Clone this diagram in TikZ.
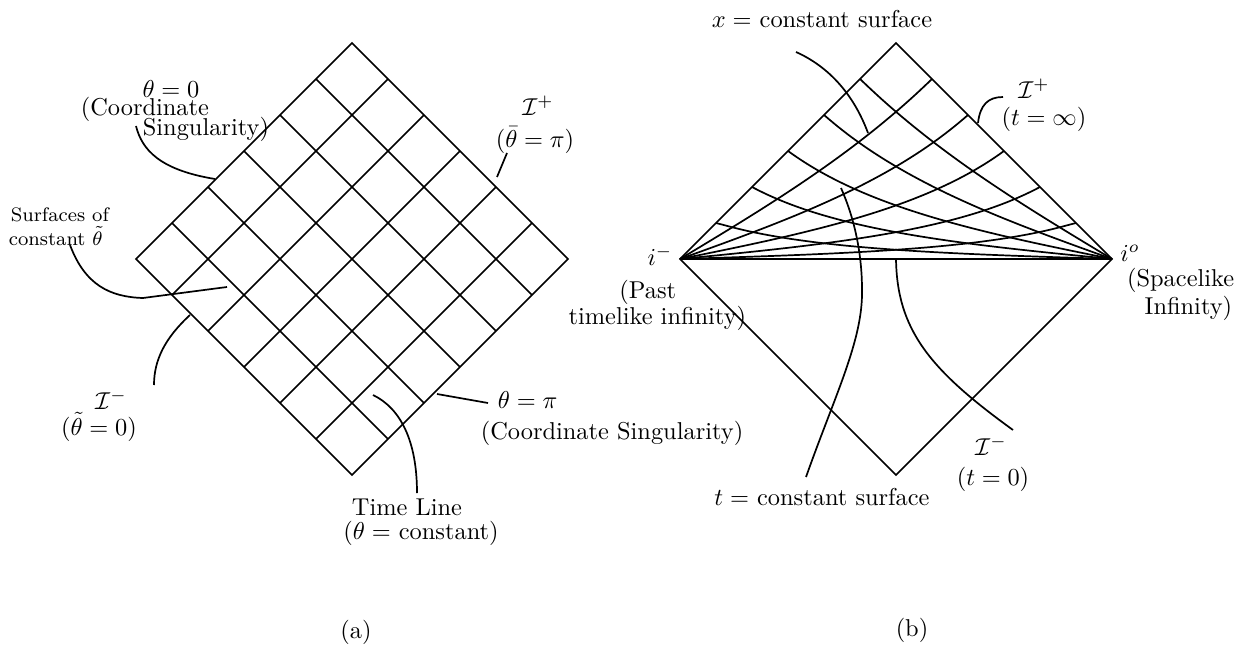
\documentclass[tikz,border=0pt]{standalone}

\tikzset{
        declare function={
                hh(\a)=cos(90*\a)/(1-\a);
                ff(\a,\p)=(1-\a)*(1-(1-\p)^(hh(\a)));
        },
}

\begin{document}
\begin{tikzpicture}[x=0.41pt, y=-0.41pt, line width=0.7pt,
        every node/.style={inner sep=0pt}]
        \useasboundingbox (0,0) rectangle (1247,666);

        % (a) mřížka
        \draw (352,43) coordinate (aT) -- (568,259) coordinate (aR)
        -- (352,475) coordinate (aB) -- (136,259) coordinate (aL) -- cycle;
        \foreach \k in {1,...,5} {
                \draw ({352-36*\k},{43+36*\k}) -- ++(216,216);
                \draw ({352+36*\k},{43+36*\k}) -- ++(-216,216);
        }

        % (a) popisky
        \node (thz) at (171,89) {$\theta = 0$};
        \node[anchor=west] (coo) at (80,109) {(Coordinate};
        \node[anchor=west] (sing) at (142,129) {Singularity)};
        \draw (136,126) coordinate (thzA)
        .. controls (142,150) and (160,170) .. (215,179) coordinate (thzB);

        \node (ipa) at (538,106) {$\mathcal{I}^+$};
        \node (thpa) at (535,140) {$(\bar\theta = \pi)$};
        \draw (507,153) coordinate (ipaA) -- (497,177) coordinate (ipaB);

        \node[anchor=west, font=\footnotesize] (surf) at (10,215) {Surfaces of};
        \node[anchor=west, font=\footnotesize] (const) at (8,236) {constant $\tilde\theta$};
        \draw (70,245) coordinate (surfA)
        .. controls (85,285) and (110,297) .. (143,298)
        -- (227,287) coordinate (surfB);

        \node (ima) at (111,400) {$\mathcal{I}^-$};
        \node (thza) at (99,427) {$(\tilde\theta = 0)$};
        \draw (190,315) coordinate (imaA)
        .. controls (165,338) and (154,360) .. (154,385) coordinate (imaB);

        \node[anchor=west] (thp) at (497,400) {$\theta = \pi$};
        \node[anchor=west] (coo2) at (480,433) {(Coordinate Singularity)};
        \draw (437,394) coordinate (thpA) -- (488,403) coordinate (thpB);

        \node (tl) at (407,507) {Time Line};
        \node (tlc) at (421,533) {($\theta =$ constant)};
        \draw (373,395) coordinate (tlA)
        .. controls (400,408) and (417,440) .. (417,493) coordinate (tlB);

        \node (capa) at (356,632) {(a)};

        % (b) konformní diagram
        \draw (896,43) coordinate (bT) -- (1112,259) coordinate (bR)
        -- (896,475) coordinate (bB) -- (680,259) coordinate (bL) -- cycle;
        \draw (bL) -- (bR);
        \coordinate (bM) at (896,259);
        \foreach \k in {1,...,5} {
                \pgfmathsetmacro{\q}{\k/6}
                \draw[variable=\x, domain=0:0.98, samples=40, smooth]
                plot ({896+216*(\x-ff(\x,\q))}, {43+216*(\x+ff(\x,\q))}) -- (bR);
                \draw[variable=\x, domain=0:0.98, samples=40, smooth]
                plot ({896+216*(ff(\x,\q)-\x)}, {43+216*(\x+ff(\x,\q))}) -- (bL);
        }

        % (b) popisky
        \node (xlab) at (822,19) {$x =$ constant surface};
        \draw (796,52) coordinate (xA)
        .. controls (825,65) and (852,90) .. (868,133) coordinate (xB);

        \node (ipb) at (1034,89) {$\mathcal{I}^+$};
        \node (tinf) at (1044,119) {$(t = \infty)$};
        \draw (1003,97) coordinate (ipbA)
        .. controls (988,97) and (980,105) .. (978,123) coordinate (ipbB);

        \node (im) at (660,256) {$i^-$};
        \node[anchor=east] (past) at (677,292) {(Past};
        \node[anchor=east] (tli) at (747,318) {timelike infinity)};

        \node (io) at (1130,253) {$i^o$};
        \node[anchor=east] (spl) at (1235,280) {(Spacelike};
        \node[anchor=east] (inf) at (1233,308) {Infinity)};

        \node (tlab) at (822,497) {$t =$ constant surface};
        \draw (806,477) coordinate (tA)
        .. controls (835,395) and (863,340) .. (862,290)
        .. controls (862,250) and (853,215) .. (841,188) coordinate (tB);

        \node (imb) at (991,446) {$\mathcal{I}^-$};
        \node (tz) at (993,479) {$(t = 0)$};
        \draw (bM) .. controls (897,330) and (930,370) .. (1013,430) coordinate (imbB);

        \node (capb) at (912,630) {(b)};

\end{tikzpicture}
\end{document}
